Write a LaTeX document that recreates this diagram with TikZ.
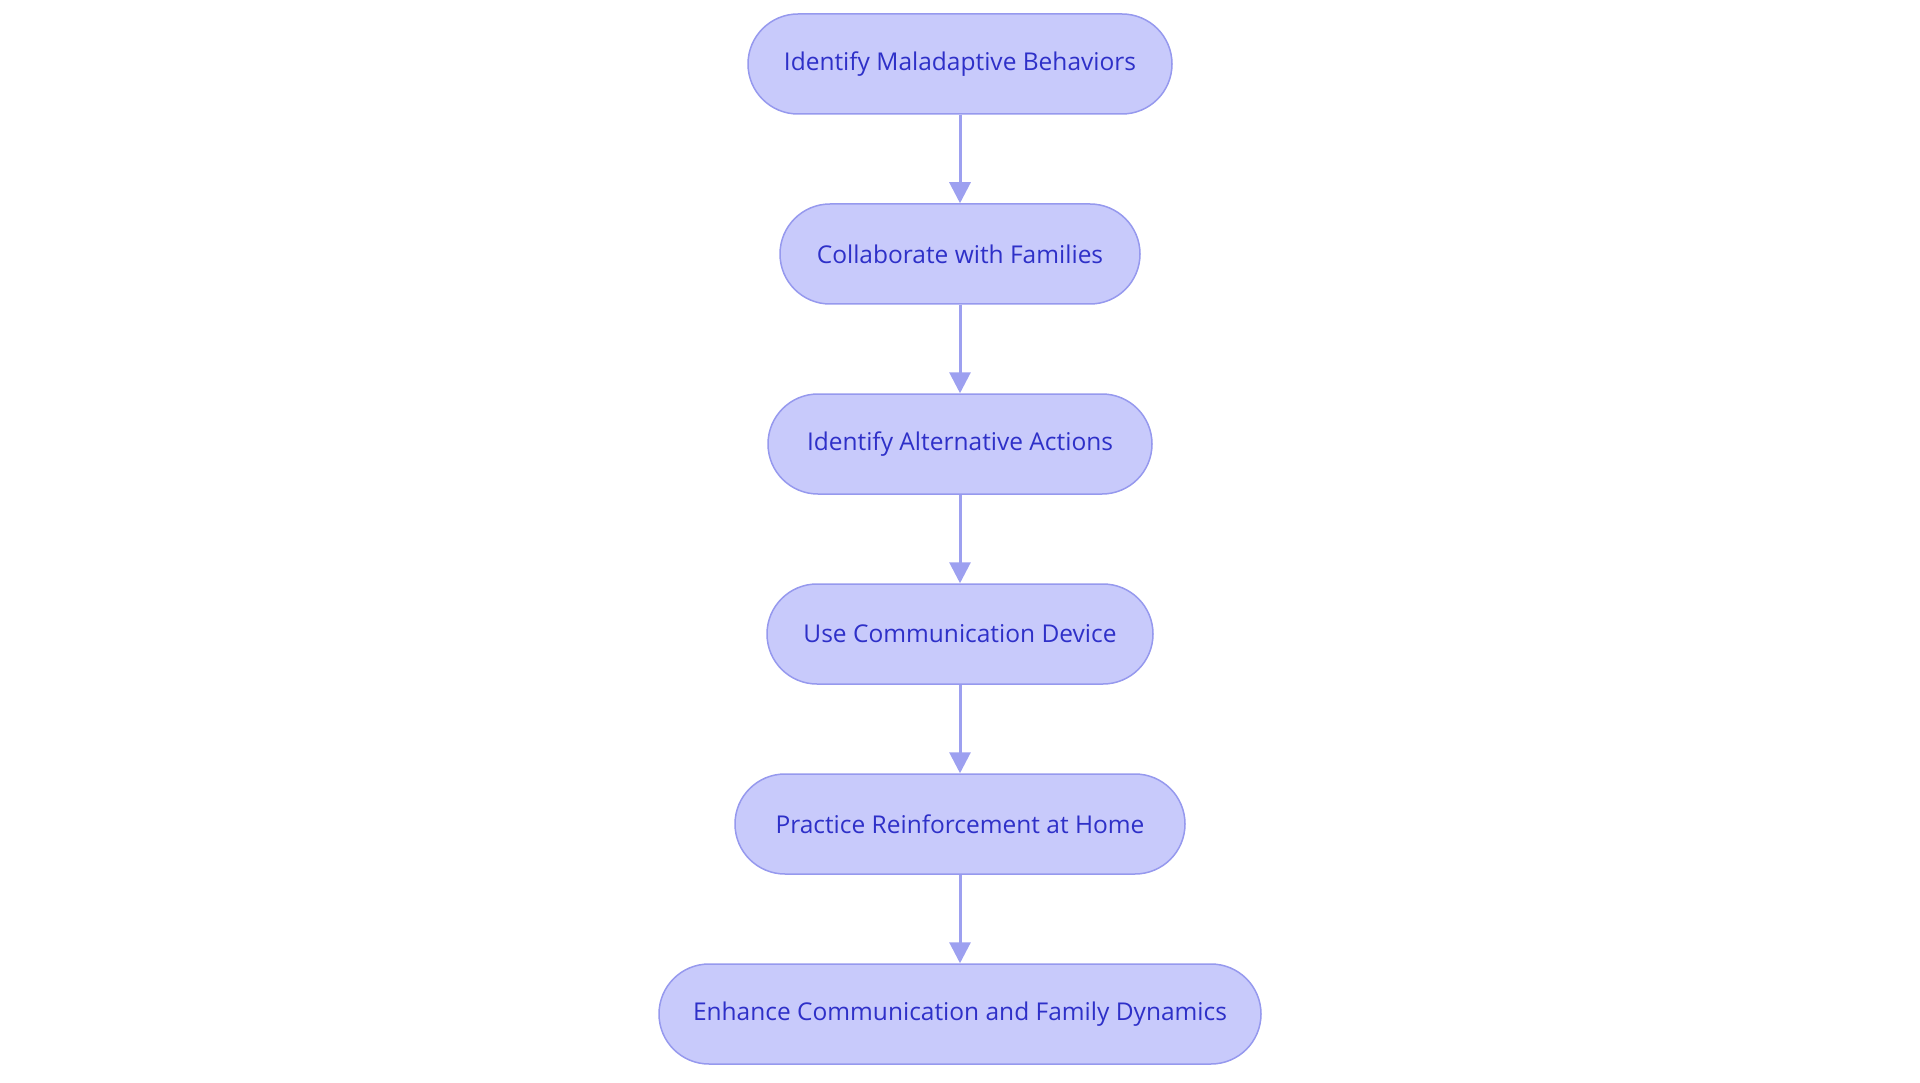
\documentclass[tikz,border=0pt]{standalone}
\usepackage{fontspec}
\setmainfont{Open Sans}
\usetikzlibrary{arrows.meta}
\definecolor{boxfill}{HTML}{C8CAFB}
\definecolor{boxline}{HTML}{9699EE}
\definecolor{boxtext}{HTML}{2E30C8}
\definecolor{arrowc}{HTML}{9DA0F0}
\tikzset{
  stepbox/.style={draw=boxline, line width=1.5pt, fill=boxfill, rounded corners=50pt,
    minimum height=100pt, inner xsep=0pt, text=boxtext,
    font=\fontsize{24.5}{29}\selectfont},
  flow/.style={draw=arrowc, line width=3pt, -{Triangle[width=21pt,length=21pt]}, shorten >=0pt}
}
\begin{document}
\begin{tikzpicture}[x=1pt,y=-1pt]
\useasboundingbox[fill=white] (0,0) rectangle (1920,1083);
\node[stepbox, minimum width=424pt] (n1) at (960,64) {Identify Maladaptive Behaviors};
\node[stepbox, minimum width=360pt] (n2) at (960,254) {Collaborate with Families};
\node[stepbox, minimum width=384pt] (n3) at (960,444) {Identify Alternative Actions};
\node[stepbox, minimum width=386pt] (n4) at (960,634) {Use Communication Device};
\node[stepbox, minimum width=450pt] (n5) at (960,824) {Practice Reinforcement at Home};
\node[stepbox, minimum width=602pt] (n6) at (960,1014) {Enhance Communication and Family Dynamics};
\draw[flow] (n1) -- (n2);
\draw[flow] (n2) -- (n3);
\draw[flow] (n3) -- (n4);
\draw[flow] (n4) -- (n5);
\draw[flow] (n5) -- (n6);
\end{tikzpicture}
\end{document}
